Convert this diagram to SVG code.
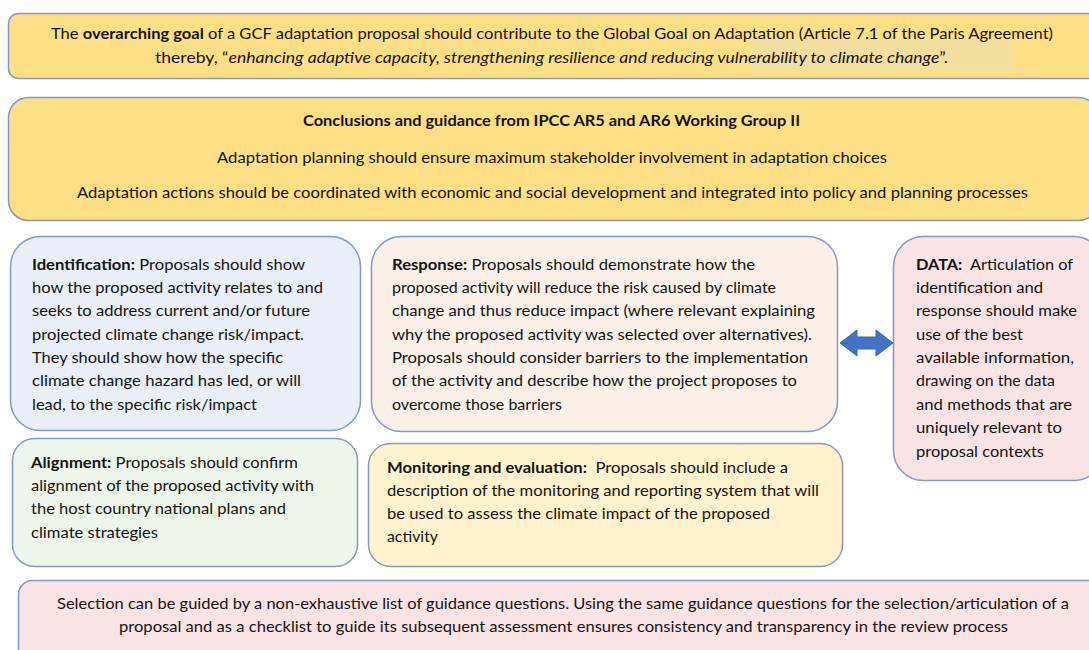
<svg xmlns="http://www.w3.org/2000/svg" width="1089" height="650" viewBox="0 0 1089 650">
  <style>
    .box { stroke: #8399c0; stroke-width: 1.5; }
    .t { font-family: Lato, "Liberation Sans", sans-serif; font-size: 16px; fill: #141414; }
    .b { font-weight: bold; }
    .i { font-style: italic; }
  </style>
  <rect width="1089" height="650" fill="#ffffff"/>

  <!-- Overarching goal -->
  <g id="goal">
    <rect class="box" x="8.5" y="13.5" width="1090" height="65" rx="10" fill="#fedf86"/>
    <rect x="752" y="40" width="261" height="30" fill="#e2dcc6" opacity="0.4"/>
    <text class="t" x="51" y="39" textLength="1002" lengthAdjust="spacingAndGlyphs">The <tspan class="b">overarching goal</tspan> of a GCF adaptation proposal should contribute to the Global Goal on Adaptation (Article 7.1 of the Paris Agreement)</text>
    <text class="t" x="155" y="63" textLength="793" lengthAdjust="spacingAndGlyphs">thereby, “<tspan class="i">enhancing adaptive capacity, strengthening resilience and reducing vulnerability to climate change</tspan>”.</text>
  </g>

  <!-- IPCC conclusions -->
  <g id="ipcc">
    <rect class="box" x="8.5" y="97.5" width="1090" height="123" rx="20" fill="#fedf86"/>
    <text class="t b" x="303" y="126" textLength="497" lengthAdjust="spacingAndGlyphs">Conclusions and guidance from IPCC AR5 and AR6 Working Group II</text>
    <text class="t" x="217" y="163" textLength="670" lengthAdjust="spacingAndGlyphs">Adaptation planning should ensure maximum stakeholder involvement in adaptation choices</text>
    <text class="t" x="77" y="198" textLength="951" lengthAdjust="spacingAndGlyphs">Adaptation actions should be coordinated with economic and social development and integrated into policy and planning processes</text>
  </g>

  <!-- Identification -->
  <g id="identification">
    <rect class="box" x="10.5" y="236.5" width="350" height="194" rx="30" fill="#e9eef7"/>
    <text class="t" x="32" y="270" textLength="273" lengthAdjust="spacingAndGlyphs"><tspan class="b">Identification:</tspan> Proposals should show</text>
    <text class="t" x="32" y="293" textLength="291" lengthAdjust="spacingAndGlyphs">how the proposed activity relates to and</text>
    <text class="t" x="32" y="316" textLength="278" lengthAdjust="spacingAndGlyphs">seeks to address current and/or future</text>
    <text class="t" x="32" y="340" textLength="272" lengthAdjust="spacingAndGlyphs">projected climate change risk/impact.</text>
    <text class="t" x="32" y="363" textLength="251" lengthAdjust="spacingAndGlyphs">They should show how the specific</text>
    <text class="t" x="32" y="386" textLength="269" lengthAdjust="spacingAndGlyphs">climate change hazard has led, or will</text>
    <text class="t" x="32" y="410" textLength="225" lengthAdjust="spacingAndGlyphs">lead, to the specific risk/impact</text>
  </g>

  <!-- Response -->
  <g id="response">
    <rect class="box" x="371.5" y="236.5" width="466" height="195" rx="30" fill="#fbf0e8"/>
    <text class="t" x="392" y="270" textLength="363" lengthAdjust="spacingAndGlyphs"><tspan class="b">Response:</tspan> Proposals should demonstrate how the</text>
    <text class="t" x="392" y="293" textLength="384" lengthAdjust="spacingAndGlyphs">proposed activity will reduce the risk caused by climate</text>
    <text class="t" x="392" y="316" textLength="423" lengthAdjust="spacingAndGlyphs">change and thus reduce impact (where relevant explaining</text>
    <text class="t" x="392" y="340" textLength="420" lengthAdjust="spacingAndGlyphs">why the proposed activity was selected over alternatives).</text>
    <text class="t" x="392" y="363" textLength="416" lengthAdjust="spacingAndGlyphs">Proposals should consider barriers to the implementation</text>
    <text class="t" x="392" y="386" textLength="405" lengthAdjust="spacingAndGlyphs">of the activity and describe how the project proposes to</text>
    <text class="t" x="392" y="410" textLength="170" lengthAdjust="spacingAndGlyphs">overcome those barriers</text>
  </g>

  <!-- Data -->
  <g id="data">
    <rect class="box" x="893.5" y="236.5" width="210" height="244" rx="30" fill="#f9e3e5"/>
    <text class="t" x="916" y="270" textLength="157" lengthAdjust="spacingAndGlyphs"><tspan class="b">DATA:</tspan>&#160; Articulation of</text>
    <text class="t" x="916" y="293" textLength="127" lengthAdjust="spacingAndGlyphs">identification and</text>
    <text class="t" x="916" y="316" textLength="161" lengthAdjust="spacingAndGlyphs">response should make</text>
    <text class="t" x="916" y="340" textLength="107" lengthAdjust="spacingAndGlyphs">use of the best</text>
    <text class="t" x="916" y="363" textLength="158" lengthAdjust="spacingAndGlyphs">available information,</text>
    <text class="t" x="916" y="386" textLength="139" lengthAdjust="spacingAndGlyphs">drawing on the data</text>
    <text class="t" x="916" y="410" textLength="156" lengthAdjust="spacingAndGlyphs">and methods that are</text>
    <text class="t" x="916" y="433" textLength="146" lengthAdjust="spacingAndGlyphs">uniquely relevant to</text>
    <text class="t" x="916" y="457" textLength="128" lengthAdjust="spacingAndGlyphs">proposal contexts</text>
  </g>

  <!-- Alignment -->
  <g id="alignment">
    <rect class="box" x="12.5" y="438.5" width="345" height="128" rx="22" fill="#eef5ea"/>
    <text class="t" x="31" y="468" textLength="267" lengthAdjust="spacingAndGlyphs"><tspan class="b">Alignment:</tspan> Proposals should confirm</text>
    <text class="t" x="31" y="491" textLength="283" lengthAdjust="spacingAndGlyphs">alignment of the proposed activity with</text>
    <text class="t" x="31" y="514" textLength="255" lengthAdjust="spacingAndGlyphs">the host country national plans and</text>
    <text class="t" x="31" y="538" textLength="127" lengthAdjust="spacingAndGlyphs">climate strategies</text>
  </g>

  <!-- Monitoring and evaluation -->
  <g id="monitoring">
    <rect class="box" x="368.5" y="443.5" width="474" height="123" rx="22" fill="#fff2cc"/>
    <text class="t" x="387" y="473" textLength="401" lengthAdjust="spacingAndGlyphs"><tspan class="b">Monitoring and evaluation:</tspan>&#160; Proposals should include a</text>
    <text class="t" x="387" y="496" textLength="432" lengthAdjust="spacingAndGlyphs">description of the monitoring and reporting system that will</text>
    <text class="t" x="387" y="519" textLength="383" lengthAdjust="spacingAndGlyphs">be used to assess the climate impact of the proposed</text>
    <text class="t" x="387" y="542" textLength="51" lengthAdjust="spacingAndGlyphs">activity</text>
  </g>

  <!-- Selection guidance -->
  <g id="selection">
    <rect class="box" x="18.5" y="580.5" width="1085" height="90" rx="14" fill="#f9e3e5"/>
    <text class="t" x="57" y="609" textLength="1012" lengthAdjust="spacingAndGlyphs">Selection can be guided by a non-exhaustive list of guidance questions. Using the same guidance questions for the selection/articulation of a</text>
    <text class="t" x="119" y="632" textLength="889" lengthAdjust="spacingAndGlyphs">proposal and as a checklist to guide its subsequent assessment ensures consistency and transparency in the review process</text>
  </g>

  <!-- Connectors -->
  <g id="connectors">
    <polygon points="840,343 857,330 857,337 876,337 876,330 893,343 876,356 876,349 857,349 857,356" fill="#4472c4" stroke="#3a64b0" stroke-width="1"/>
  </g>
</svg>
